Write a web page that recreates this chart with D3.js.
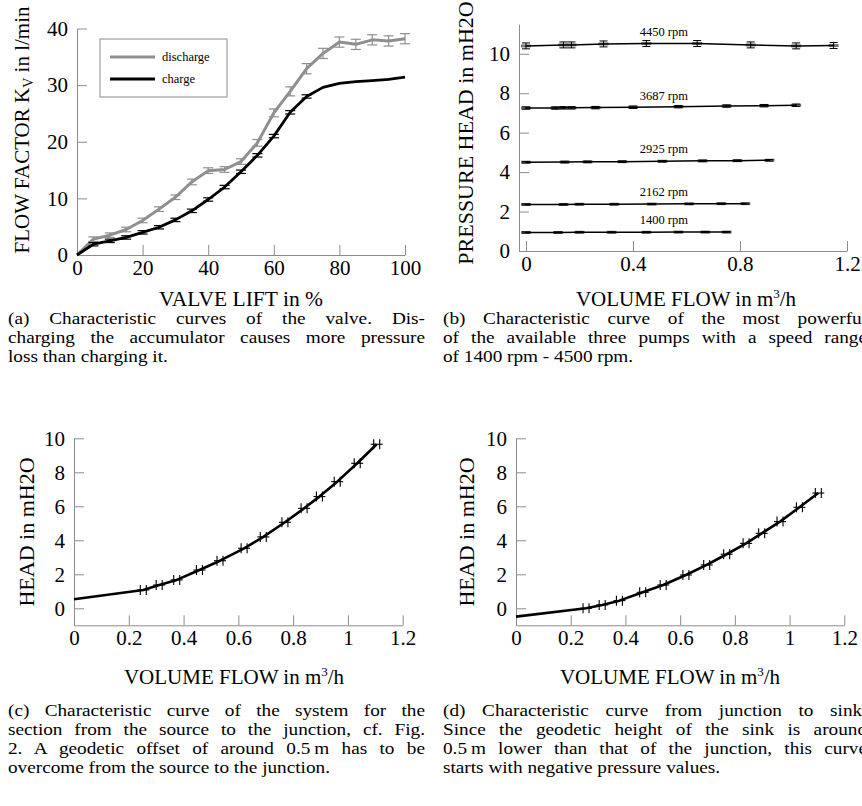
<!DOCTYPE html>
<html lang="en">
<head>
<meta charset="UTF-8">
<title>Valve and pump characteristics</title>
<script src="https://cdn.jsdelivr.net/npm/d3@7"></script>
<style>
  body { margin: 0; background: #fff; }
  svg { display: block; font-family: "Liberation Serif", "DejaVu Serif", serif; }
  .axis path, .axis line { stroke: #8c8c8c; stroke-width: 1; }
  .axis text { font-size: 21px; fill: #000; font-family: "Liberation Serif", serif; }
</style>
</head>
<body>
<div id="fig"></div>
<script>
// ---- (a) valve
const valveLift    = [0, 5, 10, 15, 20, 25, 30, 35, 40, 45, 50, 55, 60, 65, 70, 75, 80, 85, 90, 95, 100]
const dischargeKv  = [0, 2.8, 3.5, 4.5, 6.1, 8.1, 10.2, 12.9, 14.9, 15.1, 16.5, 19.8, 25.1, 28.9, 32.9, 35.6, 37.6, 37.2, 38.0, 37.8, 38.2]
const dischargeErr = [0, 0.4, 0.4, 0.4, 0.4, 0.4, 0.4, 0.5, 0.5, 0.5, 0.5, 0.6, 0.7, 0.8, 0.9, 0.9, 0.9, 0.9, 0.9, 0.9, 0.9]
const chargeKv     = [0, 1.9, 2.5, 3.1, 4.0, 4.9, 6.2, 7.8, 9.8, 12.0, 14.7, 17.6, 21.0, 25.2, 28.0, 29.6, 30.3, 30.6, 30.8, 31.0, 31.4]
const chargeErr    = [0, 0.3, 0.3, 0.3, 0.3, 0.3, 0.3, 0.3, 0.3, 0.3, 0.3, 0.3, 0.3, 0.3, 0.3, 0, 0, 0, 0, 0, 0]
const valveLegend  = ['discharge', 'charge']

// ---- (b) pump
const pumpSpeeds = ['4450 rpm', '3687 rpm', '2925 rpm', '2162 rpm', '1400 rpm']
const q4450 = [0, 0.14, 0.17, 0.29, 0.45, 0.64, 0.84, 1.01, 1.15]
const h4450 = [10.40, 10.45, 10.45, 10.50, 10.52, 10.52, 10.45, 10.40, 10.42]
const q3687 = [0, 0.11, 0.14, 0.17, 0.26, 0.40, 0.57, 0.75, 0.89, 1.01]
const h3687 = [7.25, 7.25, 7.26, 7.26, 7.27, 7.29, 7.32, 7.35, 7.37, 7.39]
const q2925 = [0, 0.145, 0.23, 0.36, 0.51, 0.66, 0.79, 0.91]
const h2925 = [4.50, 4.51, 4.52, 4.53, 4.55, 4.57, 4.58, 4.60]
const q2162 = [0, 0.14, 0.20, 0.33, 0.47, 0.61, 0.73, 0.82]
const h2162 = [2.36, 2.36, 2.37, 2.37, 2.38, 2.39, 2.40, 2.40]
const q1400 = [0, 0.12, 0.20, 0.32, 0.45, 0.57, 0.67, 0.75]
const h1400 = [0.94, 0.94, 0.95, 0.95, 0.95, 0.96, 0.96, 0.96]
const pumpErr = [0.15, 0.06, 0.04, 0.03, 0.03]
const pumpQ = [q4450, q3687, q2925, q2162, q1400]
const pumpH = [h4450, h3687, h2925, h2162, h1400]

// ---- (c) source -> junction, (d) junction -> sink
const sysQ  = [0, 0.253, 0.311, 0.375, 0.458, 0.533, 0.621, 0.691, 0.770, 0.840, 0.896, 0.961, 1.034, 1.105]
const sysH  = [0.53, 1.08, 1.37, 1.67, 2.25, 2.80, 3.53, 4.20, 5.06, 5.88, 6.57, 7.45, 8.53, 9.65]
const sinkQ = [0, 0.256, 0.315, 0.378, 0.463, 0.538, 0.621, 0.697, 0.770, 0.841, 0.898, 0.965, 1.036, 1.105]
const sinkH = [-0.49, 0.00, 0.20, 0.45, 0.94, 1.37, 1.96, 2.55, 3.18, 3.82, 4.41, 5.10, 5.94, 6.78]

const ticksA_x = [0, 20, 40, 60, 80, 100]
const ticksA_y = [0, 10, 20, 30, 40]
const ticksB_x = [0, 0.4, 0.8, 1.2]
const ticksB_y = [0, 2, 4, 6, 8, 10]
const ticksC_x = [0, 0.2, 0.4, 0.6, 0.8, 1, 1.2]
const ticksC_y = [0, 2, 4, 6, 8, 10]

const captionA = ['(a) Characteristic curves of the valve. Dis-', 'charging the accumulator causes more pressure', 'loss than charging it.']
const captionB = ['(b) Characteristic curve of the most powerful', 'of the available three pumps with a speed range', 'of 1400 rpm - 4500 rpm.']
const captionC = ['(c) Characteristic curve of the system for the', 'section from the source to the junction, cf. Fig.', '2. A geodetic offset of around 0.5\u2009m has to be', 'overcome from the source to the junction.']
const captionD = ['(d) Characteristic curve from junction to sink.', 'Since the geodetic height of the sink is around', '0.5\u2009m lower than that of the junction, this curve', 'starts with negative pressure values.']

svg = d3.select('#fig').append('svg').attr('width', 862).attr('height', 806)

// axes with inward ticks, gray lines
function drawAxes(x, y, xt, yt) {
  const bottom = y.range()[0]
  const left = x.range()[0]
  svg.append('g').attr('class', 'axis')
    .attr('transform', `translate(0,${bottom})`)
    .call(d3.axisBottom(x).tickValues(xt).tickSizeInner(-10).tickSizeOuter(0).tickPadding(5).tickFormat(d => String(d)))
  svg.append('g').attr('class', 'axis')
    .attr('transform', `translate(${left},0)`)
    .call(d3.axisLeft(y).tickValues(yt).tickSizeInner(-10).tickSizeOuter(0).tickPadding(9).tickFormat(d => String(d)))
}

function yLabel(text, cx, cy, size, sub) {
  const t = svg.append('text')
    .attr('transform', `translate(${cx},${cy}) rotate(-90)`)
    .attr('text-anchor', 'middle')
    .attr('font-size', size)
  if (sub) {
    t.append('tspan').text(text[0])
    t.append('tspan').attr('font-size', 14).attr('dy', 4).text(text[1])
    t.append('tspan').attr('dy', -4).text(text[2])
  } else t.text(text)
}

function flowLabel(cx, by) {
  const t = svg.append('text').attr('x', cx).attr('y', by).attr('text-anchor', 'middle').attr('font-size', 21)
  t.append('tspan').text('VOLUME FLOW in m')
  t.append('tspan').attr('font-size', 13).attr('dy', -8).text('3')
  t.append('tspan').attr('dy', 8).text('/h')
}

// ================= (a)
xA = d3.scaleLinear().domain([0, 100]).range([77, 405])
yA = d3.scaleLinear().domain([0, 40]).range([255, 28.5])
drawAxes(xA, yA, ticksA_x, ticksA_y)

const valveSeries = [
  { vals: dischargeKv, err: dischargeErr, color: '#8f8f8f', w: 3 },
  { vals: chargeKv, err: chargeErr, color: '#000', w: 2.8 }
]
valveSeries.forEach(s => {
  const pts = valveLift.map((v, i) => ({ x: v, y: s.vals[i], e: s.err[i] }))
  const eb = svg.append('g').attr('stroke', s.color).attr('stroke-width', 1.2)
  pts.filter(p => p.e > 0).forEach(p => {
    const px = xA(p.x)
    eb.append('line').attr('x1', px).attr('x2', px).attr('y1', yA(p.y - p.e)).attr('y2', yA(p.y + p.e))
    eb.append('line').attr('x1', px - 5).attr('x2', px + 5).attr('y1', yA(p.y - p.e)).attr('y2', yA(p.y - p.e))
    eb.append('line').attr('x1', px - 5).attr('x2', px + 5).attr('y1', yA(p.y + p.e)).attr('y2', yA(p.y + p.e))
  })
  svg.append('path').datum(pts)
    .attr('fill', 'none').attr('stroke', s.color).attr('stroke-width', s.w).attr('stroke-linejoin', 'round')
    .attr('d', d3.line().x(d => xA(d.x)).y(d => yA(d.y)))
})

// legend
const lg = svg.append('g').attr('transform', 'translate(100,39)')
lg.append('rect').attr('width', 127).attr('height', 58).attr('fill', '#fff').attr('stroke', '#8c8c8c')
valveLegend.forEach((name, i) => {
  lg.append('line').attr('x1', 10).attr('x2', 55).attr('y1', 18 + i * 22).attr('y2', 18 + i * 22)
    .attr('stroke', valveSeries[i].color).attr('stroke-width', valveSeries[i].w)
  lg.append('text').attr('x', 62).attr('y', 22 + i * 22).attr('font-size', 12.5).text(name)
})

yLabel(['FLOW FACTOR K', 'V', ' in l/min'], 29, 130, 21, true)
svg.append('text').attr('x', 241).attr('y', 306).attr('text-anchor', 'middle').attr('font-size', 21.5).text('VALVE LIFT in %')

// ================= (b)
xB = d3.scaleLinear().domain([-0.026, 1.2]).range([519, 847])
yB = d3.scaleLinear().domain([0, 11.5]).range([251, 24.2])
drawAxes(xB, yB, ticksB_x, ticksB_y)

pumpSpeeds.forEach((name, k) => {
  const pts = pumpQ[k].map((q, i) => ({ x: q, y: pumpH[k][i] }))
  const g = svg.append('g')
  const e = pumpErr[k]
  pts.forEach(p => {
    const px = xB(p.x), py = yB(p.y)
    g.append('line').attr('x1', px - 5).attr('x2', px + 5).attr('y1', py).attr('y2', py)
      .attr('stroke', '#777').attr('stroke-width', 3)
    g.append('line').attr('x1', px).attr('x2', px).attr('y1', yB(p.y - e)).attr('y2', yB(p.y + e)).attr('stroke', '#000').attr('stroke-width', 1)
    g.append('line').attr('x1', px - 4).attr('x2', px + 4).attr('y1', yB(p.y - e)).attr('y2', yB(p.y - e)).attr('stroke', '#000').attr('stroke-width', 1)
    g.append('line').attr('x1', px - 4).attr('x2', px + 4).attr('y1', yB(p.y + e)).attr('y2', yB(p.y + e)).attr('stroke', '#000').attr('stroke-width', 1)
  })
  g.append('path').datum(pts)
    .attr('fill', 'none').attr('stroke', '#000').attr('stroke-width', 1.5)
    .attr('d', d3.line().x(d => xB(d.x)).y(d => yB(d.y)))
  // speed label just above its curve
  svg.append('text').attr('x', xB(0.425)).attr('y', yB(pumpH[k][4]) - 8)
    .attr('font-size', 12.5).text(name)
})

yLabel('PRESSURE HEAD in mH2O', 473, 133, 22, false)
flowLabel(686, 306)

// ================= (c) and (d)
function headPanel(qs, hs, x0, x1, labelX, flowX) {
  const x = d3.scaleLinear().domain([0, 1.2]).range([x0, x1])
  const y = d3.scaleLinear().domain([-1, 10]).range([625.3, 438.3])
  drawAxes(x, y, ticksC_x, ticksC_y)
  const pts = qs.map((q, i) => ({ x: q, y: hs[i] }))
  svg.append('path').datum(pts)
    .attr('fill', 'none').attr('stroke', '#000').attr('stroke-width', 2.6).attr('stroke-linejoin', 'round')
    .attr('d', d3.line().x(d => x(d.x)).y(d => y(d.y)))
  const m = svg.append('g').attr('stroke', '#000').attr('stroke-width', 1.1)
  pts.slice(1).forEach(p => {
    const px = x(p.x), py = y(p.y)
    m.append('line').attr('x1', px - 6).attr('x2', px + 6).attr('y1', py).attr('y2', py)
    m.append('line').attr('x1', px - 3).attr('x2', px - 3).attr('y1', py - 5).attr('y2', py + 5)
    m.append('line').attr('x1', px + 3).attr('x2', px + 3).attr('y1', py - 5).attr('y2', py + 5)
  })
  yLabel('HEAD in mH2O', labelX, 532, 22, false)
  flowLabel(flowX, 684)
}
headPanel(sysQ, sysH, 74, 402.7, 34, 234)
headPanel(sinkQ, sinkH, 516, 844.3, 474, 670)

// ================= captions: justified lines
const capStretch = 1.1
function caption(lines, x0, width, y0) {
  const g = svg.append('g').attr('transform', `translate(${x0},0) scale(${capStretch},1)`)
  lines.forEach((ln, i) => {
    const t = g.append('text').attr('x', 0).attr('y', y0 + i * 19).attr('font-size', 17.5).text(ln)
    if (i < lines.length - 1) {
      const nat = t.node().getComputedTextLength()
      const gaps = ln.split(' ').length - 1
      if (gaps > 0) t.attr('word-spacing', (width / capStretch - nat) / gaps)
    }
  })
}
caption(captionA, 8, 417, 324)
caption(captionB, 443, 424, 324)
caption(captionC, 8, 417, 716)
caption(captionD, 443, 424, 716)
</script>
</body>
</html>
